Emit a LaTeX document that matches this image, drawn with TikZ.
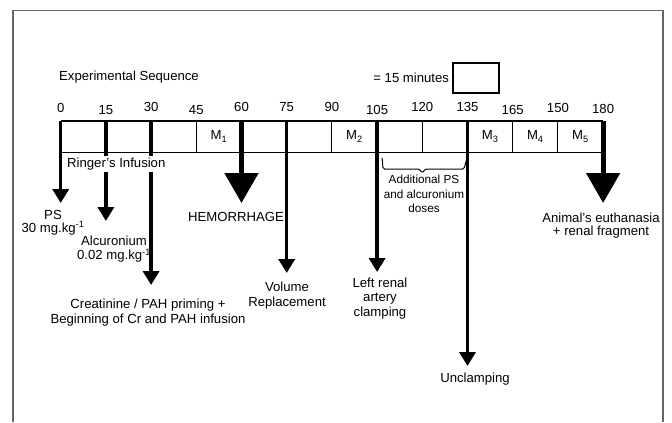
\documentclass[tikz,border=0pt]{standalone}
\usepackage{fontspec}
\setmainfont{Liberation Sans}
\usetikzlibrary{arrows.meta,calc}

\begin{document}
\begin{tikzpicture}[x=1bp,y=-1bp,
	lbl/.style={align=center,inner sep=0pt,font=\fontsize{13.2}{14}\selectfont},
	small/.style={align=center,inner sep=0pt,font=\fontsize{11.8}{14.5}\selectfont},
	arr/.style={-{Triangle[width=16bp,length=14bp]},line width=3.5bp},
	bigarr/.style={-{Triangle[width=33bp,length=30bp]},line width=5bp}]
	\useasboundingbox (0,0) rectangle (672,422);

	% frame
	\draw[black!60,line width=1.3bp] (13,422) -- (13,10.5) -- (663,10.5) -- (663,422);

	\node 	(title)	at	(59,77)		[lbl,anchor=west]{Experimental Sequence};
	\node 	(unit)	at	(476,78)	[draw,line width=1.5bp,minimum width=46bp,minimum height=30bp,inner sep=0pt]{};
	\node 	(eq)	at	(unit.west)	[lbl,anchor=east,xshift=-3bp]{= 15 minutes};

	% time axis
	\foreach \lab/\ly [count=\i from 0] in {0/108,15/110,30/107,45/110,60/107,75/107,90/107,105/110,120/107,135/107,165/110,150/108,180/109}{
		\coordinate (t\i) at ({60.7+45.2*\i},121);
		\coordinate (b\i) at ({60.7+45.2*\i},152);
		\node 	(n\i)	at	({60.7+45.2*\i},\ly)	[lbl]{\lab};
	}
	\draw[line width=1bp] (t0) rectangle (b12);
	\draw[line width=2bp] (t0) -- (t12);
	\foreach \i in {1,...,11}
		\draw[line width=1bp] (t\i) -- (b\i);

	\node 	(m1)	at	($(t3)!.5!(b4)$)	[lbl]{M\textsubscript{1}};
	\node 	(m2)	at	($(t6)!.5!(b7)$)	[lbl]{M\textsubscript{2}};
	\node 	(m3)	at	($(t9)!.5!(b10)$)	[lbl]{M\textsubscript{3}};
	\node 	(m4)	at	($(t10)!.5!(b11)$)	[lbl]{M\textsubscript{4}};
	\node 	(m5)	at	($(t11)!.5!(b12)$)	[lbl]{M\textsubscript{5}};

	% brace 105-135
	\coordinate (brc) at ($(b7)!.5!(b9)$);
	\draw[line width=1bp,rounded corners=1.5bp] ($(b7)+(5,6)$) -- ($(b7)+(6,17)$) -- ($(brc)+(-3,17)$) -- ($(brc)+(0,21)$)
		-- ($(brc)+(3,17)$) -- ($(b9)+(-3.5,17)$) -- ($(b9)+(-0.5,6)$);
	\node 	(doses)	at	(424,194)	[small]{Additional PS\\and alcuronium\\doses};

	% arrows
	\coordinate (a0) at ($(t0)+(0,82)$);
	\coordinate (a1) at ($(t1)+(0,100)$);
	\coordinate (a2) at ($(t2)+(0,164)$);
	\coordinate (a4) at ($(t4)+(0,82)$);
	\coordinate (a5) at ($(t5)+(0,152)$);
	\coordinate (a7) at ($(t7)+(0,151)$);
	\coordinate (a9) at ($(t9)+(0,245)$);
	\coordinate (a12) at ($(t12)+(0,82)$);

	\draw[arr] (t0) -- (a0);
	\draw[arr] (t1) -- (a1);
	\draw[arr] (t2) -- (a2);
	\draw[bigarr] (t4) -- (a4);
	\draw[arr] (t5) -- (a5);
	\draw[arr] (t7) -- (a7);
	\draw[arr] (t9) -- (a9);
	\draw[bigarr] (t12) -- (a12);

	\node 	(ringer)	at	(67,164)	[lbl,anchor=west,fill=white,inner ysep=1.5bp]{Ringer's Infusion};

	\node 	(ps)	at	(53,222.5)	[lbl,font=\fontsize{13.2}{13}\selectfont]{PS\\30 mg.kg\textsuperscript{-1}};
	\node 	(alc)	at	(114,249)	[lbl]{Alcuronium\\0.02 mg.kg\textsuperscript{-1}};
	\node 	(cr)	at	(148,312.5)	[lbl,font=\fontsize{13.2}{15}\selectfont]{Creatinine / PAH priming +\\Beginning of Cr and PAH infusion};
	\node 	(hem)	at	(236,217)	[lbl]{HEMORRHAGE};
	\node 	(vol)	at	(287,295.5)	[lbl,font=\fontsize{13.2}{15}\selectfont]{Volume\\Replacement};
	\node 	(clamp)	at	(380,298.5)	[lbl,font=\fontsize{13.2}{14.5}\selectfont]{Left renal\\artery\\clamping};
	\node 	(unclamp)	at	(475,379)	[lbl]{Unclamping};
	\node 	(euth)	at	(601,225.5)	[lbl,font=\fontsize{13.2}{13}\selectfont]{Animal's euthanasia\\+ renal fragment};
\end{tikzpicture}
\end{document}
